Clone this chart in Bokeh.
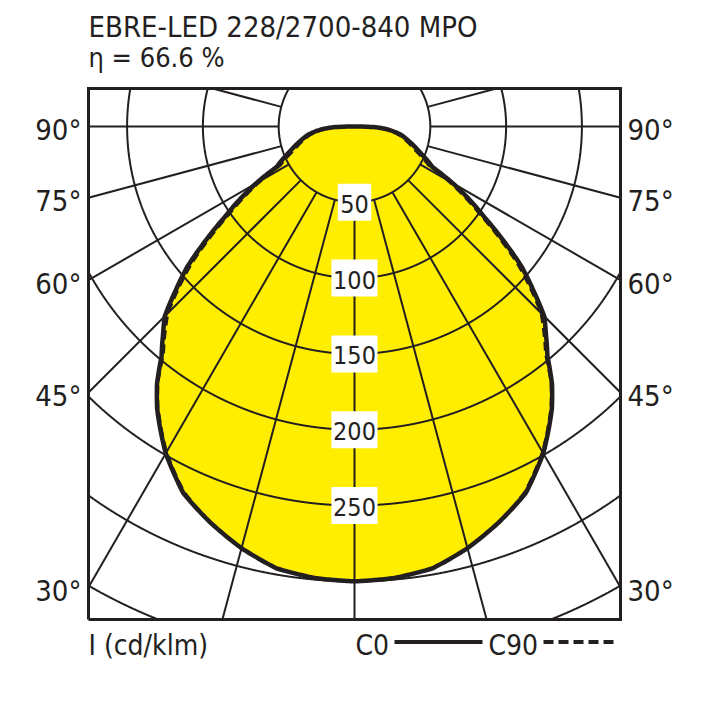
import numpy as np
from bokeh.plotting import figure
from bokeh.models import Range1d
from bokeh.core.properties import value
from bokeh.embed import file_html
from bokeh.resources import INLINE

# ---------------- data ----------------
title_text = "EBRE-LED 228/2700-840 MPO"
eta_text = "η = 66.6 %"
unit_text = "I (cd/klm)"
legend_names = ["C0", "C90"]

gamma = [0, 5, 10, 15, 20, 25, 30, 32.5, 35, 37.5, 40, 42.5, 45, 47.5, 50,
         52.5, 55, 57.5, 60, 62.5, 65, 67.5, 70, 75, 80, 85, 88, 90]
c0 = [300, 299, 296, 288, 278, 267, 249, 238, 227, 214, 198, 187, 177, 160, 144,
      124, 105, 90, 75, 58, 53, 48, 44, 37, 31, 22, 14, 0]
c90 = [300, 299, 296, 288, 278, 266, 248, 237, 226, 213, 196, 185, 174, 157, 140,
       120, 101, 86, 71, 55, 50, 45, 41, 35, 29, 20, 12, 0]

ring_values = [50, 100, 150, 200, 250, 300, 350, 400]
ring_labels = ["50", "100", "150", "200", "250"]
angle_ticks = [30, 45, 60, 75, 90]
ray_step = 15

# ---------------- geometry ----------------
S = 1.516            # px per cd/klm
CX, CY = 354, 126    # pole, page pixels
def dx(px): return (px - CX) / S
def dy(py): return (CY - py) / S

INK = "#231f20"
YELLOW = "#ffee00"
FONT = value("'DejaVu Sans Condensed', 'Liberation Sans', sans-serif")

p = figure(width=700, height=700, min_border=0,
           x_range=Range1d(dx(0), dx(700)), y_range=Range1d(dy(700), dy(0)),
           output_backend="svg", toolbar_location=None,
           x_axis_location=None, y_axis_location=None)
p.grid.visible = False
p.outline_line_color = None
p.background_fill_color = "white"
p.border_fill_color = "white"

BX0, BX1, BY0, BY1 = dx(88), dx(620), dy(619), dy(88)

def inside(x, y):
    return (x >= BX0) & (x <= BX1) & (y >= BY0) & (y <= BY1)

def polar_curve(vals):
    g = np.asarray(gamma, float)
    v = np.asarray(vals, float)
    gg = np.linspace(0, 90, 361)
    rr = np.interp(gg, g, v)
    t = np.radians(gg)
    xr, yr = rr * np.sin(t), -rr * np.cos(t)
    xs = np.concatenate([-xr[::-1], xr[1:]])
    ys = np.concatenate([yr[::-1], yr[1:]])
    return xs, ys

x0, y0 = polar_curve(c0)
x90, y90 = polar_curve(c90)

# yellow fill
p.patch(x0, y0, fill_color=YELLOW, line_color=None)

# rings, clipped to the box
th = np.radians(np.arange(0, 360.02, 0.05))
rxs, rys = [], []
for r in ring_values:
    xs = r * np.sin(th)
    ys = -r * np.cos(th)
    m = inside(xs, ys)
    if not m.any():
        continue
    rxs.append(np.where(m, xs, np.nan))
    rys.append(np.where(m, ys, np.nan))
p.multi_line(rxs, rys, line_color=INK, line_width=2)

# rays every 15 degrees, from the 50 ring to the box edge
rx, ry = [], []
for k in range(360 // ray_step):
    t = np.radians(k * ray_step)
    ux, uy = np.sin(t), -np.cos(t)
    cands = []
    if ux > 1e-9: cands.append(BX1 / ux)
    if ux < -1e-9: cands.append(BX0 / ux)
    if uy > 1e-9: cands.append(BY1 / uy)
    if uy < -1e-9: cands.append(BY0 / uy)
    r_out = min(cands)
    r_in = ring_values[0]
    if r_out <= r_in:
        continue
    rx.append([r_in * ux, r_out * ux])
    ry.append([r_in * uy, r_out * uy])
p.multi_line(rx, ry, line_color=INK, line_width=2)

# curves
p.line(x90, y90, line_color=INK, line_width=3, line_dash="9 5")
p.line(x0, y0, line_color=INK, line_width=4.5, line_join="round")

# box outline
p.line([BX0, BX1, BX1, BX0, BX0], [BY0, BY0, BY1, BY1, BY0],
       line_color=INK, line_width=3, line_join="miter")

# value labels on the vertical axis
lab_r = [int(s) for s in ring_labels]
p.rect(x=[0] * len(lab_r), y=[-r for r in lab_r],
       width=[8 + 12.7 * len(s) for s in ring_labels], height=37,
       width_units="screen", height_units="screen",
       fill_color="white", line_color=None)
p.text(x=[0] * len(lab_r), y=[-r - 1.0 for r in lab_r], text=ring_labels,
       text_align="center", text_baseline="middle",
       text_font=FONT, text_font_size=value("25px"), text_color=INK)

# angle labels
W = BX1
ay = []
for a in angle_ticks:
    t = np.radians(a)
    ay.append(-W * np.cos(t) / np.sin(t) - 3.5 / S)
atxt = [f"{a}°" for a in angle_ticks]
p.text(x=[dx(81)] * len(ay), y=ay, text=atxt, text_align="right", text_baseline="middle",
       text_font=FONT, text_font_size=value("29px"), text_color=INK)
p.text(x=[dx(627)] * len(ay), y=ay, text=atxt, text_align="left", text_baseline="middle",
       text_font=FONT, text_font_size=value("29px"), text_color=INK)

# title lines
p.text(x=[BX0], y=[dy(26)], text=[title_text],
       text_align="left", text_baseline="middle",
       text_font=FONT, text_font_size=value("29px"), text_color=INK)
p.text(x=[BX0], y=[dy(57)], text=[eta_text],
       text_align="left", text_baseline="middle",
       text_font=FONT, text_font_size=value("27px"), text_color=INK)

# bottom: unit + legend
p.text(x=[BX0, dx(355), dx(488)], y=[dy(645)] * 3,
       text=[unit_text, legend_names[0], legend_names[1]],
       text_align="left", text_baseline="middle",
       text_font=FONT, text_font_size=value("28px"), text_color=INK)
p.line([dx(394), dx(482)], [dy(641.5)] * 2, line_color=INK, line_width=4)
p.line([dx(543), dx(617)], [dy(641.5)] * 2, line_color=INK, line_width=4, line_dash="10 5")

open("out.html", "w").write(file_html(p, INLINE))
